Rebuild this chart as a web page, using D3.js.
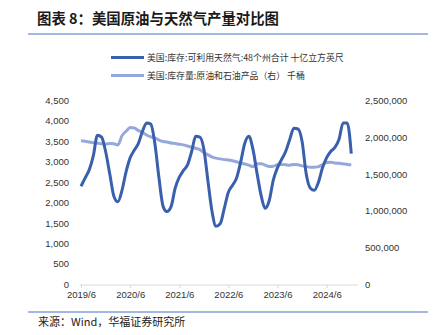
<!DOCTYPE html>
<html><head><meta charset="utf-8">
<script src="https://cdn.jsdelivr.net/npm/d3@7"></script>
<style>body{margin:0;background:#fff}svg{display:block}</style>
</head><body>
<script>
const startYear = 2019, startMonth = 6;
const gasStorage = [2400,2600,2800,3150,3650,3600,3250,2700,2150,2020,2300,2750,
3100,3280,3450,3750,3950,3920,3450,2600,1900,1780,1900,2350,
2620,2780,2920,3250,3620,3600,3300,2500,1750,1420,1480,1850,
2250,2420,2600,3000,3450,3620,3300,2700,2150,1860,2050,2550,
2850,3050,3250,3550,3820,3800,3500,2700,2350,2300,2500,2850,
3100,3250,3350,3550,3950,3950,3200];
const oilStorage = [1950000,1945000,1935000,1925000,1920000,1910000,1905000,1915000,1910000,1895000,2020000,2080000,
2130000,2125000,2090000,2065000,2030000,2005000,1990000,1960000,1940000,1935000,1920000,1915000,
1905000,1895000,1880000,1865000,1850000,1830000,1790000,1760000,1730000,1715000,1705000,1695000,
1690000,1680000,1665000,1650000,1635000,1620000,1600000,1640000,1640000,1620000,1600000,1605000,
1625000,1630000,1625000,1620000,1630000,1625000,1610000,1600000,1590000,1590000,1600000,1625000,
1655000,1660000,1650000,1645000,1640000,1630000,1625000];
const xTickLabels = ["2019/6","2020/6","2021/6","2022/6","2023/6","2024/6"];
const leftTicks = [0,500,1000,1500,2000,2500,3000,3500,4000,4500];
const rightTicks = [0,500000,1000000,1500000,2000000,2500000];
const seriesNames = ["美国:库存:可利用天然气:48个州合计  十亿立方英尺","美国:库存量:原油和石油产品（右）  千桶"];
const titleText = "图表 8：美国原油与天然气产量对比图";
const sourceText = "来源：Wind，华福证券研究所";

const dates = gasStorage.map((_, i) => new Date(startYear, startMonth - 1 + i, 1));
const W = 433, H = 335;
const svg = d3.select("body").append("svg").attr("width", W).attr("height", H);
const cDark = "#3a5fad", cLight = "#95a8db", cLine = "#4472c4";
const font = "'Liberation Sans', Arial, sans-serif";
const cjk = "'Noto Sans CJK SC', sans-serif";

const x = d3.scaleTime().domain([new Date(2019,5,1), new Date(2025,0,20)]).range([81, 358]);
const yL = d3.scaleLinear().domain([0,4500]).range([284.3,100.4]);
const yR = d3.scaleLinear().domain([0,2500000]).range([284.3,100.4]);

// title
svg.append("text").attr("x",37).attr("y",24).attr("font-family",cjk).attr("font-weight","bold")
  .attr("font-size",14.4).attr("fill","#1a1a1a").text(titleText);
svg.append("line").attr("x1",28).attr("x2",428).attr("y1",34).attr("y2",34).attr("stroke",cLine).attr("stroke-width",1.2);

// legend
const leg = svg.append("g");
[[cDark,57.5],[cLight,75.5]].forEach((d,i)=>{
  leg.append("line").attr("x1",111).attr("x2",144).attr("y1",d[1]).attr("y2",d[1]).attr("stroke",d[0]).attr("stroke-width",3);
  leg.append("text").attr("x",147).attr("y",d[1]+3).attr("font-family",cjk).attr("font-size",8.9)
    .attr("fill","#333").text(seriesNames[i]);
});

// axes
const fmt = d3.format(",");
const axL = svg.append("g").attr("transform","translate(69,0)")
  .call(d3.axisLeft(yL).tickValues(leftTicks).tickFormat(fmt).tickSize(0).tickPadding(0));
axL.select(".domain").remove();
axL.selectAll("text").attr("font-family",font).attr("font-size",9.5).attr("fill","#333");

const axR = svg.append("g").attr("transform","translate(365,0)")
  .call(d3.axisRight(yR).tickValues(rightTicks).tickFormat(fmt).tickSize(0).tickPadding(0));
axR.select(".domain").remove();
axR.selectAll("text").attr("font-family",font).attr("font-size",9.5).attr("fill","#333");

const tickDates = xTickLabels.map(s => { const [yy,mm] = s.split("/").map(Number); return new Date(yy,mm-1,1); });
const axB = svg.append("g").attr("transform","translate(0,285)")
  .call(d3.axisBottom(x).tickValues(tickDates).tickFormat((d,i)=>xTickLabels[i]).tickSize(3).tickPadding(3).tickSizeOuter(0));
axB.select(".domain").attr("stroke","#d9d9d9").attr("d","M80,0H358");
axB.selectAll(".tick line").attr("stroke","#d9d9d9");
axB.selectAll("text").attr("font-family",font).attr("font-size",9.5).attr("fill","#333");

// lines
const lineL = d3.line().x((d,i)=>x(dates[i])).y(d=>yL(d)).curve(d3.curveMonotoneX);
const lineR = d3.line().x((d,i)=>x(dates[i])).y(d=>yR(d)).curve(d3.curveMonotoneX);
svg.append("path").datum(oilStorage).attr("d",lineR).attr("fill","none").attr("stroke",cLight).attr("stroke-width",3);
svg.append("path").datum(gasStorage).attr("d",lineL).attr("fill","none").attr("stroke",cDark).attr("stroke-width",3);

// footer
svg.append("line").attr("x1",28).attr("x2",428).attr("y1",312).attr("y2",312).attr("stroke",cLine).attr("stroke-width",1.2);
svg.append("text").attr("x",38).attr("y",326).attr("font-family",cjk).attr("font-size",11).attr("fill","#1a1a1a").text(sourceText);
</script>
</body></html>
